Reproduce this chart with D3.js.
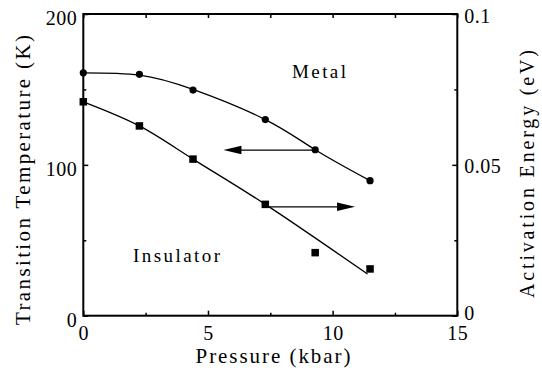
<!DOCTYPE html>
<html>
<head>
<meta charset="utf-8">
<script src="https://cdn.jsdelivr.net/npm/d3@7"></script>
<style>
  body { margin: 0; background: #fff; }
  svg text { font-family: "Liberation Serif", "Tinos", "Times New Roman", "Noto Serif", "DejaVu Serif", "FreeSerif", Times, serif; fill: #000; }
</style>
</head>
<body>
<div id="chart"></div>
<script>
// metal-insulator transition temperature (left axis, K)
const metalP = [0, 2.25, 4.4, 7.3, 9.3, 11.5]
const metalT = [161, 160, 149.6, 130, 110, 89.5]
// activation energy (right axis, eV)
const gapP = [0, 2.25, 4.4, 7.3, 9.3, 11.5]
const gapE = [0.0709, 0.0629, 0.0519, 0.0369, 0.0209, 0.0155]
// guide curves drawn by hand in the original
const metalFitP = [0, 2.25, 4.4, 7.3, 9.3, 11.5]
const metalFitT = [161, 159.5, 150, 130, 110, 89.5]
const gapFitP = [0, 2.25, 4.4, 7.3, 11.4]
const gapFitE = [0.0709, 0.0629, 0.0519, 0.0369, 0.0138]
// arrows: [from, to] pressure, at a fixed value
const arrowLeft = { p: [9.3, 5.62], t: 109.8 }
const arrowRight = { p: [7.3, 10.9], e: 0.0361 }

const xTicks = [0, 5, 10, 15]
const xMinor = [2.5, 7.5, 12.5]
const yLTicks = [0, 100, 200]
const yLMinor = [50, 150]
const yRTicks = [0, 0.05, 0.1]
const yRMinor = [0.025, 0.075]

const W = 542, H = 372
const plot = { left: 83.3, right: 457.3, top: 14, bottom: 315.7 }

const svg = d3.select('#chart').append('svg')
    .attr('width', W).attr('height', H)
svg.append('rect').attr('width', W).attr('height', H).attr('fill', '#fff')

const x = d3.scaleLinear().domain([0, 15]).range([plot.left, plot.right])
const yL = d3.scaleLinear().domain([0, 200]).range([plot.bottom, plot.top])
const yR = d3.scaleLinear().domain([0, 0.1]).range([plot.bottom, plot.top])

const fmtR = d => d === 0 ? '0' : d3.format('')(d)

const styleAxis = (g, fs) => {
    g.attr('font-family', null)
    g.select('.domain').remove()
    g.selectAll('.tick line').attr('stroke', '#000').attr('stroke-width', 1.5)
    g.selectAll('.tick text')
        .style('font-size', fs + 'px')
        .style('letter-spacing', '0.5px')
}

// bottom
svg.append('g').attr('transform', `translate(0,${plot.bottom})`)
    .call(d3.axisBottom(x).tickValues(xTicks).tickSize(-5).tickPadding(10).tickFormat(d3.format('d')))
    .call(g => styleAxis(g, 20))
svg.append('g').attr('transform', `translate(0,${plot.bottom})`)
    .call(d3.axisBottom(x).tickValues(xMinor).tickSize(-3).tickFormat(''))
    .call(g => styleAxis(g, 20))
// top
svg.append('g').attr('transform', `translate(0,${plot.top})`)
    .call(d3.axisTop(x).tickValues(xTicks.concat(xMinor)).tickSize(-4).tickFormat(''))
    .call(g => styleAxis(g, 20))
// left
svg.append('g').attr('transform', `translate(${plot.left},0)`)
    .call(d3.axisLeft(yL).tickValues(yLTicks).tickSize(-5).tickPadding(6).tickFormat(d3.format('d')))
    .call(g => styleAxis(g, 20))
    .call(g => g.selectAll('.tick text').attr('dy', '0.52em'))
svg.append('g').attr('transform', `translate(${plot.left},0)`)
    .call(d3.axisLeft(yL).tickValues(yLMinor).tickSize(-3).tickFormat(''))
    .call(g => styleAxis(g, 20))
// right
svg.append('g').attr('transform', `translate(${plot.right},0)`)
    .call(d3.axisRight(yR).tickValues(yRTicks).tickSize(-5).tickPadding(7).tickFormat(fmtR))
    .call(g => styleAxis(g, 20))
    .call(g => g.selectAll('.tick text').attr('dy', d => d === 0 ? '0.2em' : '0.4em'))
svg.append('g').attr('transform', `translate(${plot.right},0)`)
    .call(d3.axisRight(yR).tickValues(yRMinor).tickSize(-3).tickFormat(''))
    .call(g => styleAxis(g, 20))

// frame
svg.append('rect')
    .attr('x', plot.left).attr('y', plot.top)
    .attr('width', plot.right - plot.left).attr('height', plot.bottom - plot.top)
    .attr('fill', 'none').attr('stroke', '#000').attr('stroke-width', 2)

// curves
const metalLine = d3.line().curve(d3.curveNatural)
    .x((d, i) => x(metalFitP[i])).y(d => yL(d))
svg.append('path').attr('d', metalLine(metalFitT))
    .attr('fill', 'none').attr('stroke', '#000').attr('stroke-width', 1.3)

const gapLine = d3.line().curve(d3.curveNatural)
    .x((d, i) => x(gapFitP[i])).y(d => yR(d))
svg.append('path').attr('d', gapLine(gapFitE))
    .attr('fill', 'none').attr('stroke', '#000').attr('stroke-width', 1.3)

// arrows
const arrow = (x0, x1, yy) => {
    const dir = Math.sign(x1 - x0), hl = 18, hw = 4.2
    svg.append('line')
        .attr('x1', x0).attr('x2', x1 - dir * hl + dir * 2)
        .attr('y1', yy).attr('y2', yy)
        .attr('stroke', '#000').attr('stroke-width', 1.3)
    svg.append('path')
        .attr('d', `M${x1},${yy}L${x1 - dir * hl},${yy - hw}L${x1 - dir * hl},${yy + hw}Z`)
        .attr('fill', '#000')
}
arrow(x(arrowLeft.p[0]), x(arrowLeft.p[1]), yL(arrowLeft.t))
arrow(x(arrowRight.p[0]), x(arrowRight.p[1]), yR(arrowRight.e))

// markers
svg.append('g').selectAll('circle').data(metalT).join('circle')
    .attr('cx', (d, i) => x(metalP[i])).attr('cy', d => yL(d))
    .attr('r', 3.6).attr('fill', '#000')
const sq = 7.5
svg.append('g').selectAll('rect').data(gapE).join('rect')
    .attr('x', (d, i) => x(gapP[i]) - sq / 2).attr('y', d => yR(d) - sq / 2)
    .attr('width', sq).attr('height', sq).attr('fill', '#000')

// region labels
svg.append('text').attr('x', 292).attr('y', 78).style('font-size', '19px')
    .attr('textLength', 54).attr('lengthAdjust', 'spacing').text('Metal')
svg.append('text').attr('x', 133).attr('y', 262).style('font-size', '19px')
    .attr('textLength', 87).attr('lengthAdjust', 'spacing').text('Insulator')

// axis titles
svg.append('text').attr('x', 273).attr('y', 363)
    .attr('text-anchor', 'middle').style('font-size', '21px')
    .attr('textLength', 155).attr('lengthAdjust', 'spacing').text('Pressure (kbar)')
svg.append('text').attr('transform', 'translate(30,180) rotate(-90)')
    .attr('text-anchor', 'middle').style('font-size', '21px')
    .attr('textLength', 290).attr('lengthAdjust', 'spacing').text('Transition Temperature (K)')
svg.append('text').attr('transform', 'translate(534,174) rotate(-90)')
    .attr('text-anchor', 'middle').style('font-size', '20px')
    .attr('textLength', 248).attr('lengthAdjust', 'spacing').text('Activation Energy (eV)')
</script>
</body>
</html>
